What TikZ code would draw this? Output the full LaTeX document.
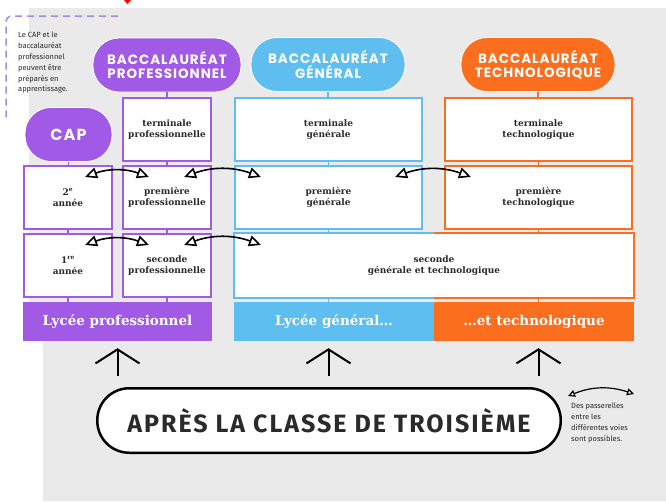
\documentclass[tikz,border=0pt]{standalone}
\usepackage{fontspec}
\setmainfont{DejaVu Serif}
\newfontfamily\titrefont{Poppins}[LetterSpace=7]
\newfontfamily\notefont{Fira Sans}
\newfontfamily\grandfont{Fira Sans}[LetterSpace=8]
\usepackage{xcolor}
\usepackage{tikz}
\usetikzlibrary{arrows.meta, calc, positioning}

\definecolor{VoiePro}{HTML}{A05AE6}
\definecolor{VoieGen}{HTML}{5FBEF0}
\definecolor{VoieTechno}{HTML}{FA6E1E}
\definecolor{FondGris}{HTML}{EAEAEA}
\definecolor{CadreNote}{HTML}{A98AE0}
\definecolor{Encre}{HTML}{2A2A2A}

\begin{document}
\begin{tikzpicture}[x=1pt, y=-1pt,
	voie/.style={rounded corners=26pt, minimum height=54pt, inner sep=0pt, align=center, text=white, draw=white, line width=0.8pt, font=\titrefont\bfseries\fontsize{13.5}{14.5}\selectfont},
	classe/.style={draw=#1, line width=1.6pt, fill=white, minimum height=63.5pt, inner sep=0pt, align=center, text=Encre, font=\bfseries\fontsize{9}{11.5}\selectfont},
	lycee/.style={fill=#1, minimum height=39pt, inner sep=0pt, text=white, font=\bfseries\fontsize{13.5}{15}\selectfont},
	lien/.style={draw=#1, line width=1.2pt},
	passerelle/.style={{Triangle[open, length=12pt, width=11pt]}-{Triangle[open, length=12pt, width=11pt]}, line width=1.6pt, bend left=20},
	monte/.style={-{Straight Barb[length=14pt, width=44pt]}, line width=2pt},
	note/.style={align=left, inner sep=0pt, text=Encre, font=\notefont\fontsize{7.5}{10.8}\selectfont},
	]

	\useasboundingbox (0,0) rectangle (666,501);
	\fill[FondGris] (29,8) -- (666,8) -- (666,501) -- (43,501) -- (43,340) -- (29,340) -- cycle;
	\fill[red] (124,0) -- (131,0) -- (127.5,4) -- cycle;

	\draw[CadreNote, line width=1.5pt, dash pattern=on 7pt off 5pt, rounded corners=6pt] (118,16) -- (6,16) -- (6,117);
	\node[note, anchor=north west] (apprenti) at (18,32) {Le CAP et le\\baccalauréat\\professionnel\\peuvent être\\préparés en\\apprentissage.};

	\node[voie, fill=VoiePro, minimum width=148pt] (bacpro) at (167,65) {BACCALAURÉAT\\PROFESSIONNEL};
	\node[voie, fill=VoieGen, minimum width=154pt] (bacgen) at (328,64.5) {BACCALAURÉAT\\GÉNÉRAL};
	\node[voie, fill=VoieTechno, minimum width=154pt] (bactechno) at (538,64.5) {BACCALAURÉAT\\TECHNOLOGIQUE};
	\node[voie, fill=VoiePro, minimum width=87pt, font=\titrefont\bfseries\fontsize{16}{18}\selectfont] (cap) at (68.5,134.5) {CAP};

	\node[classe=VoiePro, minimum width=88.5pt] (termpro) at (167,129.5) {terminale\\professionnelle};
	\node[classe=VoieGen, minimum width=187.5pt] (termgen) at (328.5,129.5) {terminale\\générale};
	\node[classe=VoieTechno, minimum width=187.5pt] (termtechno) at (538.5,129.5) {terminale\\technologique};

	\node[classe=VoiePro, minimum width=88.5pt] (annee2) at (68,197.5) {2\textsuperscript{e}\\année};
	\node[classe=VoiePro, minimum width=88.5pt] (premierepro) at (167,197.5) {première\\professionnelle};
	\node[classe=VoieGen, minimum width=187.5pt] (premieregen) at (328.5,197.5) {première\\générale};
	\node[classe=VoieTechno, minimum width=187.5pt] (premieretechno) at (538.5,197.5) {première\\technologique};

	\node[classe=VoiePro, minimum width=88.5pt] (annee1) at (68,265.5) {1\textsuperscript{re}\\année};
	\node[classe=VoiePro, minimum width=88.5pt] (secondepro) at (167,265.5) {seconde\\professionnelle};
	\node[classe=white, draw=none, minimum width=398.5pt] (secondegt) at (434,265.5) {seconde\\générale et technologique};
	\draw[VoieGen, line width=1.6pt] (secondegt.north) -- (secondegt.north west) -- (secondegt.south west) -- (secondegt.south);
	\draw[VoieTechno, line width=1.6pt] (secondegt.north) -- (secondegt.north east) -- (secondegt.south east) -- (secondegt.south);

	\node[lycee=VoiePro, minimum width=189pt] (lpro) at (117.5,321.5) {Lycée professionnel};
	\node[lycee=VoieGen, minimum width=200pt] (lgen) at (334,321.5) {Lycée général…};
	\node[lycee=VoieTechno, minimum width=200pt] (ltechno) at (534,321.5) {…et technologique};

	\foreach \a/\b/\c in {bacpro/termpro/VoiePro, cap/annee2/VoiePro, termpro/premierepro/VoiePro, annee2/annee1/VoiePro, premierepro/secondepro/VoiePro, annee1/lpro/VoiePro, secondepro/lpro/VoiePro, bacgen/termgen/VoieGen, termgen/premieregen/VoieGen, premieregen/secondegt/VoieGen, bactechno/termtechno/VoieTechno, termtechno/premieretechno/VoieTechno, premieretechno/secondegt/VoieTechno}
		\draw[lien=\c] (\a.south) -- (\a.south |- \b.north);
	\draw[lien=VoieGen] (termgen.south |- secondegt.south) -- (termgen.south |- lgen.north);
	\draw[lien=VoieTechno] (termtechno.south |- secondegt.south) -- (termtechno.south |- ltechno.north);

	\foreach \g/\d in {annee2/premierepro, premierepro/premieregen, premieregen/premieretechno, annee1/secondepro, secondepro/secondegt}
		\draw[passerelle] ($(\g.north east)+(-28,12)$) to ($(\d.north west)+(27,12)$);

	\node[draw=black, line width=2.5pt, fill=white, rounded corners=32pt, minimum width=463.5pt, minimum height=64.5pt, inner sep=0pt, text=Encre, font=\grandfont\bfseries\fontsize{25}{28}\selectfont] (apres) at (329,420.5) {APRÈS LA CLASSE DE TROISIÈME};

	\foreach \n in {lpro, termgen, termtechno}
		\draw[monte, shorten <=11pt, shorten >=7pt] (apres.north -| \n.south) -- (\n.south |- lpro.south);

	\coordinate (legendeg) at (568,396);
	\coordinate (legended) at (634,394);
	\draw[passerelle, {Triangle[open, length=7pt, width=7pt]}-{Triangle[open, length=7pt, width=7pt]}, line width=1.2pt] (legendeg) to (legended);
	\node[note, anchor=north west] (legende) at (571,403) {Des passerelles\\entre les\\différentes voies\\sont possibles.};

\end{tikzpicture}
\end{document}
